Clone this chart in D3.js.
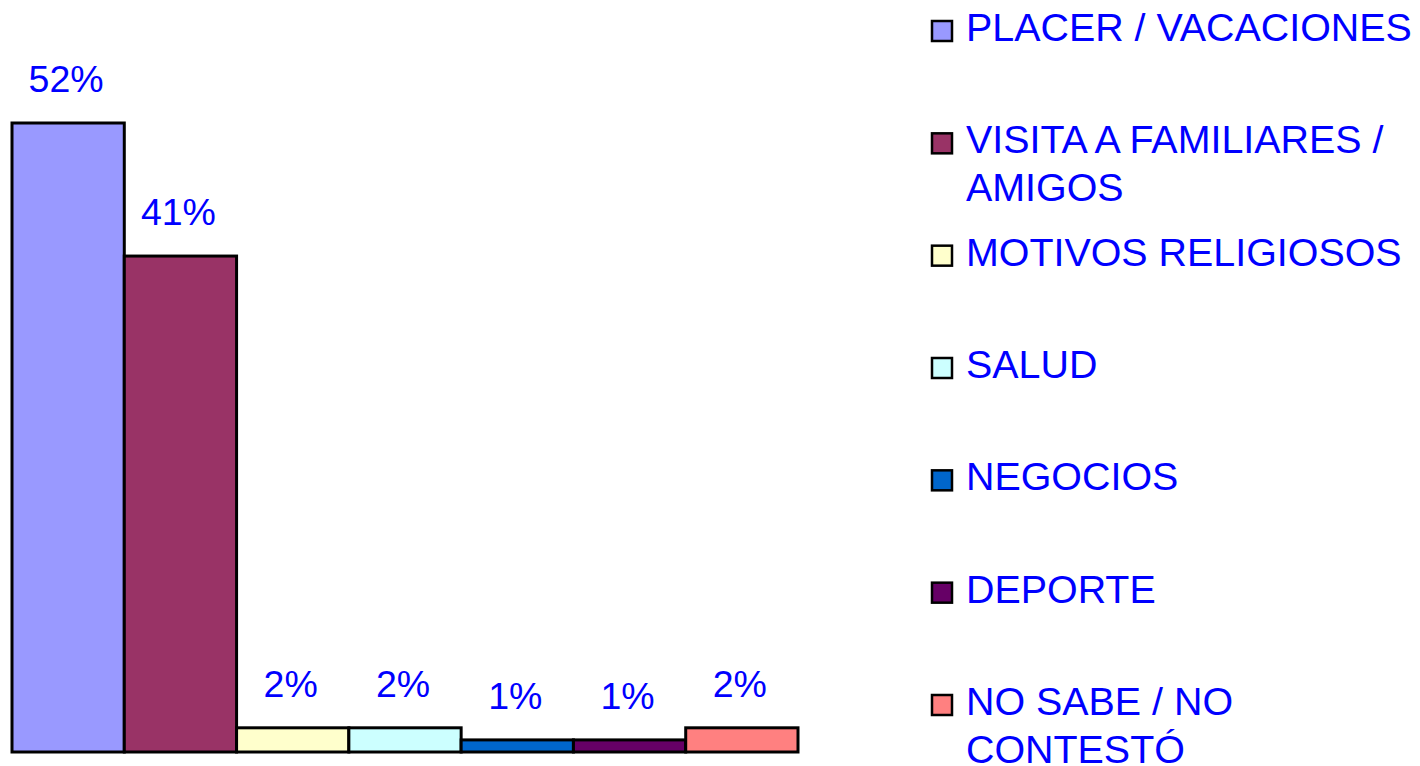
<!DOCTYPE html>
<html>
<head>
<meta charset="utf-8">
<script src="https://cdn.jsdelivr.net/npm/d3@7"></script>
<style>
    html, body { margin: 0; padding: 0; background: #fff; }
    svg { display: block; font-family: "Liberation Sans", Arial, sans-serif; }
</style>
</head>
<body>
<svg id="chart"></svg>
<script>
// Motivo del viaje (%)
const categories = [
    "PLACER / VACACIONES",
    "VISITA A FAMILIARES / AMIGOS",
    "MOTIVOS RELIGIOSOS",
    "SALUD",
    "NEGOCIOS",
    "DEPORTE",
    "NO SABE / NO CONTESTÓ"
];
// legend text as it breaks in the picture
const legendLines = [
    ["PLACER / VACACIONES"],
    ["VISITA A FAMILIARES /", "AMIGOS"],
    ["MOTIVOS RELIGIOSOS"],
    ["SALUD"],
    ["NEGOCIOS"],
    ["DEPORTE"],
    ["NO SABE / NO", "CONTESTÓ"]
];
const values = [52, 41, 2, 2, 1, 1, 2];
const colors = ["#9999FF", "#993366", "#FFFFCC", "#CCFFFF", "#0066CC", "#660066", "#FF8080"];

const width = 1420, height = 766;
const textColor = "#0000FF";

const svg = d3.select("#chart")
    .attr("width", width)
    .attr("height", height);

// Scales
const x = d3.scaleBand()
    .domain(categories)
    .range([12, 798])
    .padding(0);

const y = d3.scaleLinear()
    .domain([0, 52])
    .range([752, 123]);

const color = d3.scaleOrdinal()
    .domain(categories)
    .range(colors);

const data = categories.map((c, i) => ({ name: c, value: values[i], lines: legendLines[i] }));

// Bars
svg.selectAll(".bar")
    .data(data)
    .enter()
    .append("rect")
    .attr("class", "bar")
    .attr("x", d => x(d.name))
    .attr("y", d => y(d.value))
    .attr("width", x.bandwidth())
    .attr("height", d => y(0) - y(d.value))
    .attr("fill", d => color(d.name))
    .style("stroke", "#000")
    .style("stroke-width", "3px");

// Value labels
svg.selectAll(".label")
    .data(data)
    .enter()
    .append("text")
    .attr("class", "label")
    .attr("x", d => x(d.name) + x.bandwidth() / 2 - 2)
    .attr("y", d => y(d.value) - 31)
    .attr("text-anchor", "middle")
    .style("font-size", "37.5px")
    .style("fill", textColor)
    .text(d => d.value + "%");

// Legend
const legendY = d3.scaleLinear()
    .domain([0, categories.length - 1])
    .range([41, 715]);

const items = svg.append("g")
    .attr("class", "legend")
    .selectAll("g")
    .data(data)
    .enter()
    .append("g")
    .attr("transform", (d, i) => `translate(0, ${legendY(i)})`);

items.append("rect")
    .attr("x", 932)
    .attr("y", -20)
    .attr("width", 20)
    .attr("height", 20)
    .attr("fill", d => color(d.name))
    .style("stroke", "#000")
    .style("stroke-width", "2.5px");

items.append("text")
    .style("font-size", "39.4px")
    .style("fill", textColor)
    .selectAll("tspan")
    .data(d => d.lines)
    .enter()
    .append("tspan")
    .attr("x", 966)
    .attr("y", (d, i) => i * 47.5)
    .text(d => d);
</script>
</body>
</html>
